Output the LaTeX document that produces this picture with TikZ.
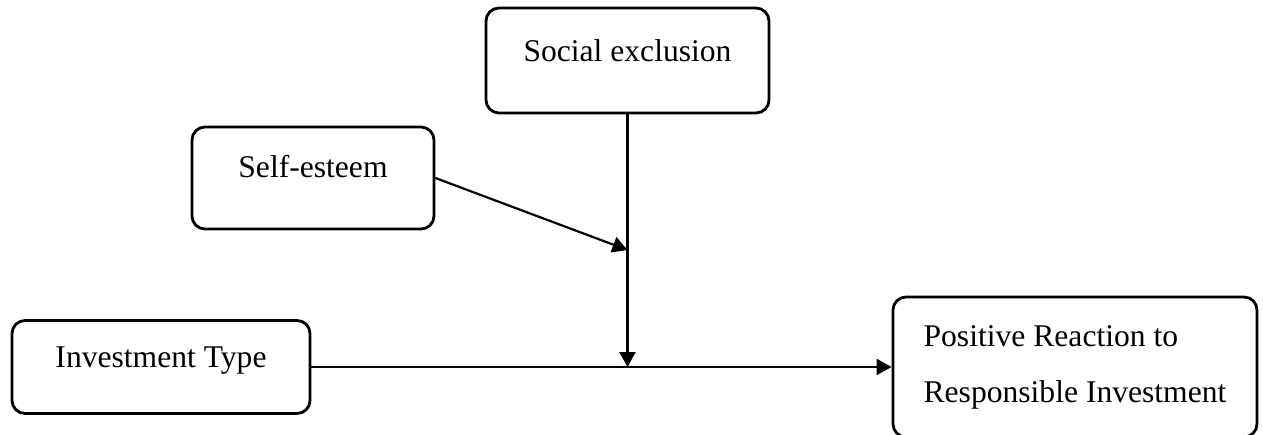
\documentclass[tikz,border=0pt]{standalone}
\usepackage{fontspec}
\setmainfont{Liberation Serif}
\usetikzlibrary{arrows.meta}

\begin{document}
\begin{tikzpicture}[x=0.5pt, y=0.5pt,
    box/.style={draw, line width=1.4pt, rounded corners=6.5pt, inner sep=0pt,
        font=\fontsize{15.8pt}{28pt}\selectfont},
    link/.style={line width=1.1pt, -{Triangle[length=7.5pt, width=8pt]}}]
    \useasboundingbox (0,0) rectangle (1263,434);

    % Draw boxes
    \node[box, minimum width=141.5pt, text height=27pt, text depth=25.5pt] (soc) at (627.5,373.5) {Social exclusion};
    \node[box, minimum width=121pt, text height=25.5pt, text depth=25.5pt] (self) at (313,256) {Self-esteem};
    \node[box, minimum width=149pt, text height=23.25pt, text depth=23.25pt] (inv) at (161,67) {Investment Type};
    \node[box, minimum width=182pt, minimum height=70pt, align=left] (pos) at (1075,67)
        {Positive Reaction to\\Responsible Investment};

    % Points where the arrows meet a line
    \coordinate (hit) at (soc.south |- inv.east);
    \coordinate (mod) at (627.5,184);

    % Draw arrows
    \draw[link] (soc.south) -- (hit);
    \draw[link] (self.east) -- (mod);
    \draw[link] (inv.east) -- (pos.west);
\end{tikzpicture}
\end{document}
